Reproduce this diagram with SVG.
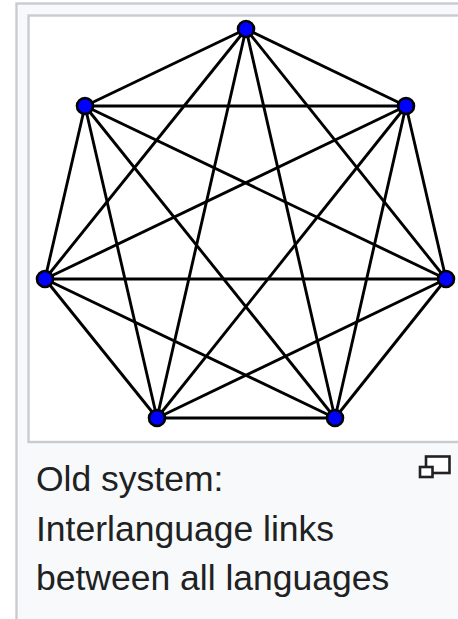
<svg xmlns="http://www.w3.org/2000/svg" width="458" height="619" viewBox="0 0 458 619">
<style>
.frame{fill:#f8f9fa;stroke:#c8ccd1;stroke-width:2.4}
.img{fill:#fff;stroke:#c8ccd1;stroke-width:2.4}
.e line{stroke:#000;stroke-width:2.9}
.n{fill:#00f;stroke:#000;stroke-width:2.6}
.t{font-family:"Liberation Sans",Arial,sans-serif;font-size:35.5px;fill:#202122}
.i{fill:#fff;stroke:#202122;stroke-width:2.6}
</style>
<rect width="458" height="619" fill="#fff"/>
<rect class="frame" x="16.500" y="3.500" width="460" height="640"/>
<rect class="img" x="28.500" y="15.500" width="450" height="426.500"/>
<g id="connectors" class="e">
<line x1="246" y1="29" x2="406" y2="106"/>
<line x1="246" y1="29" x2="446" y2="279"/>
<line x1="246" y1="29" x2="335" y2="418"/>
<line x1="246" y1="29" x2="157" y2="418"/>
<line x1="246" y1="29" x2="45" y2="279"/>
<line x1="246" y1="29" x2="85" y2="106"/>
<line x1="406" y1="106" x2="446" y2="279"/>
<line x1="406" y1="106" x2="335" y2="418"/>
<line x1="406" y1="106" x2="157" y2="418"/>
<line x1="406" y1="106" x2="45" y2="279"/>
<line x1="406" y1="106" x2="85" y2="106"/>
<line x1="446" y1="279" x2="335" y2="418"/>
<line x1="446" y1="279" x2="157" y2="418"/>
<line x1="446" y1="279" x2="45" y2="279"/>
<line x1="446" y1="279" x2="85" y2="106"/>
<line x1="335" y1="418" x2="157" y2="418"/>
<line x1="335" y1="418" x2="45" y2="279"/>
<line x1="335" y1="418" x2="85" y2="106"/>
<line x1="157" y1="418" x2="45" y2="279"/>
<line x1="157" y1="418" x2="85" y2="106"/>
<line x1="45" y1="279" x2="85" y2="106"/>
</g>
<g id="node-1"><circle class="n" cx="246" cy="29" r="8"/></g>
<g id="node-2"><circle class="n" cx="406" cy="106" r="8"/></g>
<g id="node-3"><circle class="n" cx="446" cy="279" r="8"/></g>
<g id="node-4"><circle class="n" cx="335" cy="418" r="8"/></g>
<g id="node-5"><circle class="n" cx="157" cy="418" r="8"/></g>
<g id="node-6"><circle class="n" cx="45" cy="279" r="8"/></g>
<g id="node-7"><circle class="n" cx="85" cy="106" r="8"/></g>
<g id="icon">
<rect class="i" x="426" y="456.500" width="23.500" height="16.500"/>
<rect class="i" x="420" y="467" width="12.500" height="10"/>
</g>
<g id="caption" class="t">
<text x="36" y="490.500">Old system:</text>
<text x="36" y="541">Interlanguage links</text>
<text x="36" y="590">between all languages</text>
</g>
</svg>
